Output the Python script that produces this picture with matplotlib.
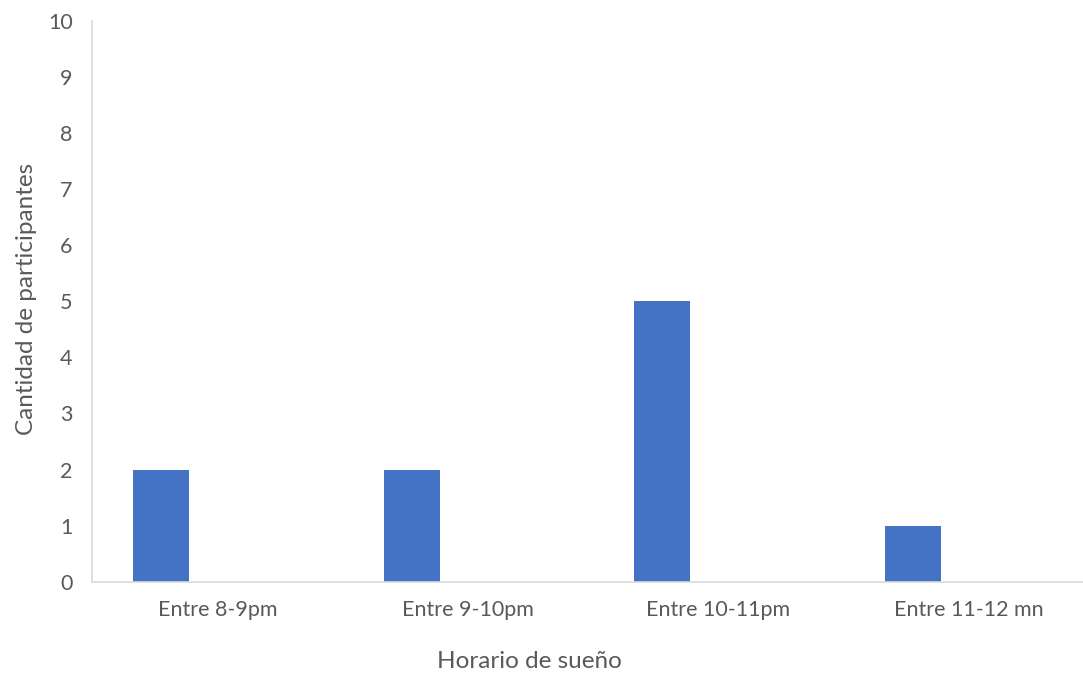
import matplotlib
matplotlib.use("Agg")
import numpy as np
from matplotlib import pyplot as plt

# Data
categorias = ['Entre 8-9pm', 'Entre 9-10pm', 'Entre 10-11pm', 'Entre 11-12 mn']
participantes = [2, 2, 5, 1]
y_ticks = [0, 1, 2, 3, 4, 5, 6, 7, 8, 9, 10]

text_color = '#595959'
bar_color = '#4472C4'
spine_color = '#D9D9D9'

plt.rcParams['font.family'] = ['Lato', 'DejaVu Sans']

fig = plt.figure(figsize=(10.83, 6.73), dpi=100)
# plot area runs past the right edge, like the original
ax = fig.add_axes([92 / 1083, 91.3 / 673, 1002.4 / 1083, 560.7 / 673])

x = np.arange(len(categorias))
w = 0.2235
ax.bar(x - w, participantes, width=w, color=bar_color, edgecolor='none')

ax.set_xlim(-0.5, len(categorias) - 0.5)
ax.set_ylim(0, 10)
ax.set_yticks(y_ticks)
ax.set_xticks(x)
ax.set_xticklabels(categorias)

for side in ['top', 'right']:
    ax.spines[side].set_visible(False)
for side in ['left', 'bottom']:
    ax.spines[side].set_color(spine_color)
    ax.spines[side].set_linewidth(1.2)

ax.tick_params(axis='both', length=0, labelsize=15.5, colors=text_color)
ax.tick_params(axis='y', pad=14)
ax.tick_params(axis='x', pad=13)

fig.text(529 / 1083, 1 - 662 / 673, 'Horario de sueño', ha='center', va='center',
         fontsize=17.5, color=text_color)
fig.text(27 / 1083, 1 - 299 / 673, 'Cantidad de participantes', ha='center', va='center',
         rotation=90, fontsize=17.5, color=text_color)

fig.savefig('out.png', dpi=100)
